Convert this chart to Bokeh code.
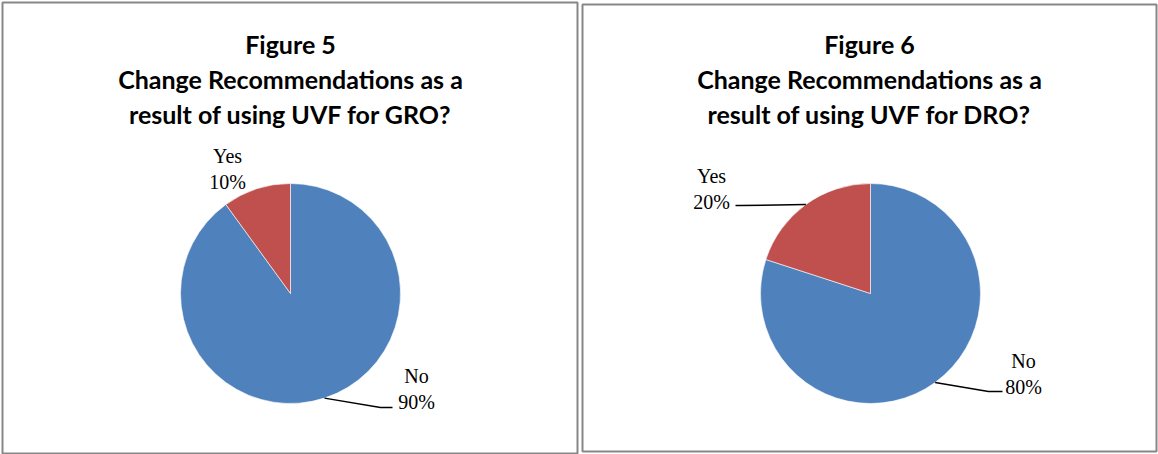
import math
from bokeh.plotting import figure
from bokeh.models import Range1d, ColumnDataSource, GlobalInlineStyleSheet
from bokeh.core.properties import value
from bokeh.embed import file_html
from bokeh.resources import INLINE

# ---- data ----
categories = ["No", "Yes"]
gro_values = [90, 10]
dro_values = [80, 20]
gro_title = ["Figure 5", "Change Recommendations as a", "result of using UVF for GRO?"]
dro_title = ["Figure 6", "Change Recommendations as a", "result of using UVF for DRO?"]
colors = ["#4F81BD", "#C0504D"]

W, H = 1158, 454
p = figure(width=W, height=H, output_backend="svg", toolbar_location=None,
           x_range=Range1d(0, W), y_range=Range1d(0, H), min_border=0,
           outline_line_color=None)
p.axis.visible = False
p.grid.visible = False
p.background_fill_color = "white"
p.border_fill_color = "white"
p.stylesheets = [GlobalInlineStyleSheet(css="body{margin:0 !important;}")]


def Y(v):
    return H - v

# panel borders
p.quad(left=[2, 582], right=[577, 1156], top=[Y(2), Y(4)], bottom=[Y(453), Y(451)],
       fill_color=None, line_color="#878787", line_width=2)

TITLE_FONT = value("Lato")
LABEL_FONT = value("Liberation Serif")
R = 110


def pie(cx, cy, vals, title, title_cx, label_pos, leaders):
    total = float(sum(vals))
    starts, ends, mids = [], [], []
    cum = 0.0
    for v in vals:
        a0 = math.pi / 2 - 2 * math.pi * cum / total
        cum += v
        a1 = math.pi / 2 - 2 * math.pi * cum / total
        starts.append(a0)
        ends.append(a1)
        mids.append((a0 + a1) / 2)
    src = ColumnDataSource(dict(x=[cx] * len(vals), y=[Y(cy)] * len(vals),
                                start=starts, end=ends, color=colors[:len(vals)]))
    p.wedge(x="x", y="y", radius=R, radius_units="screen", start_angle="start",
            end_angle="end", direction="clock", fill_color="color",
            line_color="white", line_width=0.6, source=src)
    # title
    for i, t in enumerate(title):
        p.text(x=[title_cx], y=[Y(43 + 35 * i)], text=[t], text_font=TITLE_FONT,
               text_font_style="bold", text_font_size="25px", text_align="center",
               text_baseline="middle", text_color="black")
    # labels
    for i, (cat, v) in enumerate(zip(categories, vals)):
        lx, ly = label_pos[i]
        pct = "%d%%" % round(100 * v / total)
        p.text(x=[lx, lx], y=[Y(ly), Y(ly + 26)], text=[cat, pct], text_font=LABEL_FONT,
               text_font_size="20px", text_align="center", text_baseline="middle",
               text_color="black")
        if leaders[i] is not None:
            ax = cx + R * math.cos(mids[i])
            ay = cy - R * math.sin(mids[i])
            xs = [ax] + [pt[0] for pt in leaders[i]]
            ys = [Y(ay)] + [Y(pt[1]) for pt in leaders[i]]
            p.line(xs, ys, line_color="black", line_width=1.5)


pie(290, 293, gro_values, gro_title, 290,
    label_pos=[(416, 375), (227, 155)],
    leaders=[[(380, 407), (392, 407)], None])
pie(870, 293, dro_values, dro_title, 869,
    label_pos=[(1023, 360), (711, 175)],
    leaders=[[(988, 391), (1002, 391)], [(740, 205), (735, 205)]])

open("out.html", "w").write(file_html(p, INLINE))
